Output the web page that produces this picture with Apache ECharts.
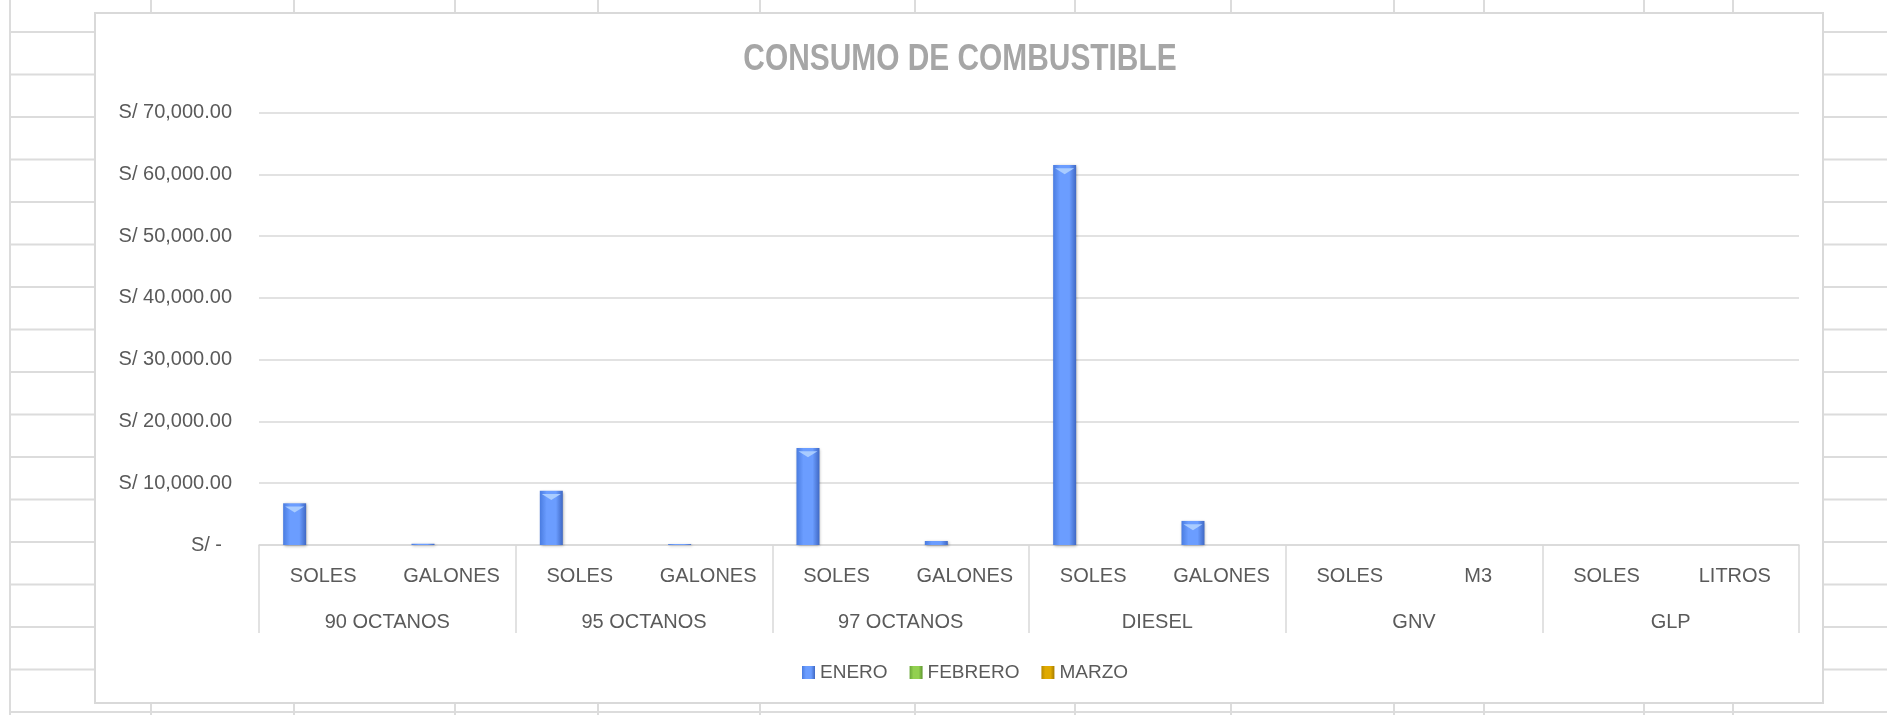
<!DOCTYPE html>
<html><head><meta charset="utf-8">
<script src="https://cdn.jsdelivr.net/npm/echarts@6/dist/echarts.min.js"></script>
<style>
html,body{margin:0;padding:0;background:#fff;width:1887px;height:715px;overflow:hidden;}
#sheet{position:absolute;left:0;top:0;}
#box{position:absolute;left:94px;top:12px;width:1730px;height:692px;box-sizing:border-box;border:2px solid #d9d9d9;background:#fff;}
#chart{position:absolute;left:0;top:0;width:1887px;height:715px;}
</style></head><body>
<canvas id="sheet" width="1887" height="715"></canvas>
<div id="box"></div>
<div id="chart"></div>
<script>
// ---- data ----
const subCategories = ['SOLES','GALONES','SOLES','GALONES','SOLES','GALONES','SOLES','GALONES','SOLES','M3','SOLES','LITROS'];
const groupCategories = ['90 OCTANOS','95 OCTANOS','97 OCTANOS','DIESEL','GNV','GLP'];
const seriesNames = ['ENERO','FEBRERO','MARZO'];
const enero   = [6750, 200, 8800, 150, 15700, 650, 61500, 3900, 0, 0, 0, 0];
const febrero = [0, 0, 0, 0, 0, 0, 0, 0, 0, 0, 0, 0];
const marzo   = [0, 0, 0, 0, 0, 0, 0, 0, 0, 0, 0, 0];
const yMin = 0, yMax = 70000, yStep = 10000;
const titleText = 'CONSUMO DE COMBUSTIBLE';

// ---- spreadsheet backdrop ----
(function(){
  const c = document.getElementById('sheet').getContext('2d');
  c.strokeStyle = '#dcdcdc'; c.lineWidth = 2;
  const cols = [10,151,294,455,598,760,915,1075,1231,1394,1484,1644,1733];
  for (const x of cols){ c.beginPath(); c.moveTo(x,0); c.lineTo(x,715); c.stroke(); }
  for (let y = 32; y < 716; y += 42.5){ c.beginPath(); c.moveTo(10,y); c.lineTo(1887,y); c.stroke(); }
})();

const FONT = 'Liberation Sans';
const FS = 20;
const TXT = '#5a5a5a';
function grad(c0, c1, c2){
  return new echarts.graphic.LinearGradient(0,0,1,0,[
    {offset:0,color:c0},{offset:0.3,color:c1},{offset:0.7,color:c1},{offset:1,color:c2}]);
}
const blue = grad('#4a7ce0','#6b9dff','#3f68c4');
const green = grad('#6aa83a','#92d050','#5e9630');
const gold = grad('#b88a00','#e0aa00','#a67c00');

const BW = 23, GAP = '24%';
const capOffset = -(BW + BW * 0.24);

const chart = echarts.init(document.getElementById('chart'), null, {renderer:'canvas'});
chart.setOption({
  animation:false,
  backgroundColor:'transparent',
  graphic:[{
    type:'text', x:960, y:60, scaleX:0.83, z:10,
    style:{text:titleText, font:'bold 36px "Liberation Sans"', fill:'#a6a6a6', align:'center', verticalAlign:'middle'}
  }],
  legend:{
    data:seriesNames, left:797, top:658, icon:'rect', itemWidth:13, itemHeight:13, itemGap:22,
    textStyle:{fontFamily:FONT, fontSize:19, color:TXT}
  },
  grid:{left:259, right:88, top:112.5, bottom:170, containLabel:false},
  xAxis:[
    {type:'category', data:subCategories, position:'bottom',
     axisLine:{show:true, lineStyle:{color:'#d9d9d9', width:1.5}},
     axisTick:{show:false},
     axisLabel:{interval:0, margin:21, fontFamily:FONT, fontSize:FS, color:TXT}
    },
    {type:'category', data:groupCategories, position:'bottom', offset:88,
     axisLine:{show:false},
     axisTick:{show:true, inside:true, length:88, lineStyle:{color:'#d9d9d9', width:1.5}},
     axisLabel:{interval:0, margin:-21, fontFamily:FONT, fontSize:FS, color:TXT}
    }
  ],
  yAxis:{
    type:'value', min:yMin, max:yMax, interval:yStep,
    axisLine:{show:false}, axisTick:{show:false},
    splitLine:{lineStyle:{color:'#d9d9d9', width:1.5}},
    axisLabel:{
      margin:27, fontFamily:FONT, fontSize:FS, color:TXT,
      formatter:function(v){
        if (v === 0) return '{z|S/ -}';
        return 'S/ ' + v.toLocaleString('en-US',{minimumFractionDigits:2, maximumFractionDigits:2});
      },
      rich:{z:{fontFamily:FONT, fontSize:FS, color:TXT, padding:[0,10,0,0]}}
    }
  },
  series:[
    {name:seriesNames[0], type:'bar', xAxisIndex:0, data:enero, barWidth:BW, barGap:GAP,
     itemStyle:{color:blue, shadowBlur:3, shadowColor:'rgba(0,0,0,0.35)', shadowOffsetX:1, shadowOffsetY:1}},
    {name:seriesNames[1], type:'bar', xAxisIndex:0, data:febrero, barWidth:BW, barGap:GAP,
     itemStyle:{color:green}},
    {name:seriesNames[2], type:'bar', xAxisIndex:0, data:marzo, barWidth:BW, barGap:GAP,
     itemStyle:{color:gold}},
    {name:'ENERO-cap', type:'pictorialBar', xAxisIndex:0, z:5, silent:true,
     data:enero.map(v => v >= 1500 ? v : '-'),
     symbol:'path://M0,0 L10,0 L5,4 Z', symbolSize:[19,6], symbolPosition:'end',
     symbolOffset:[capOffset, '55%'],
     itemStyle:{color:'#a9ccff'}}
  ]
});
</script>
</body></html>
